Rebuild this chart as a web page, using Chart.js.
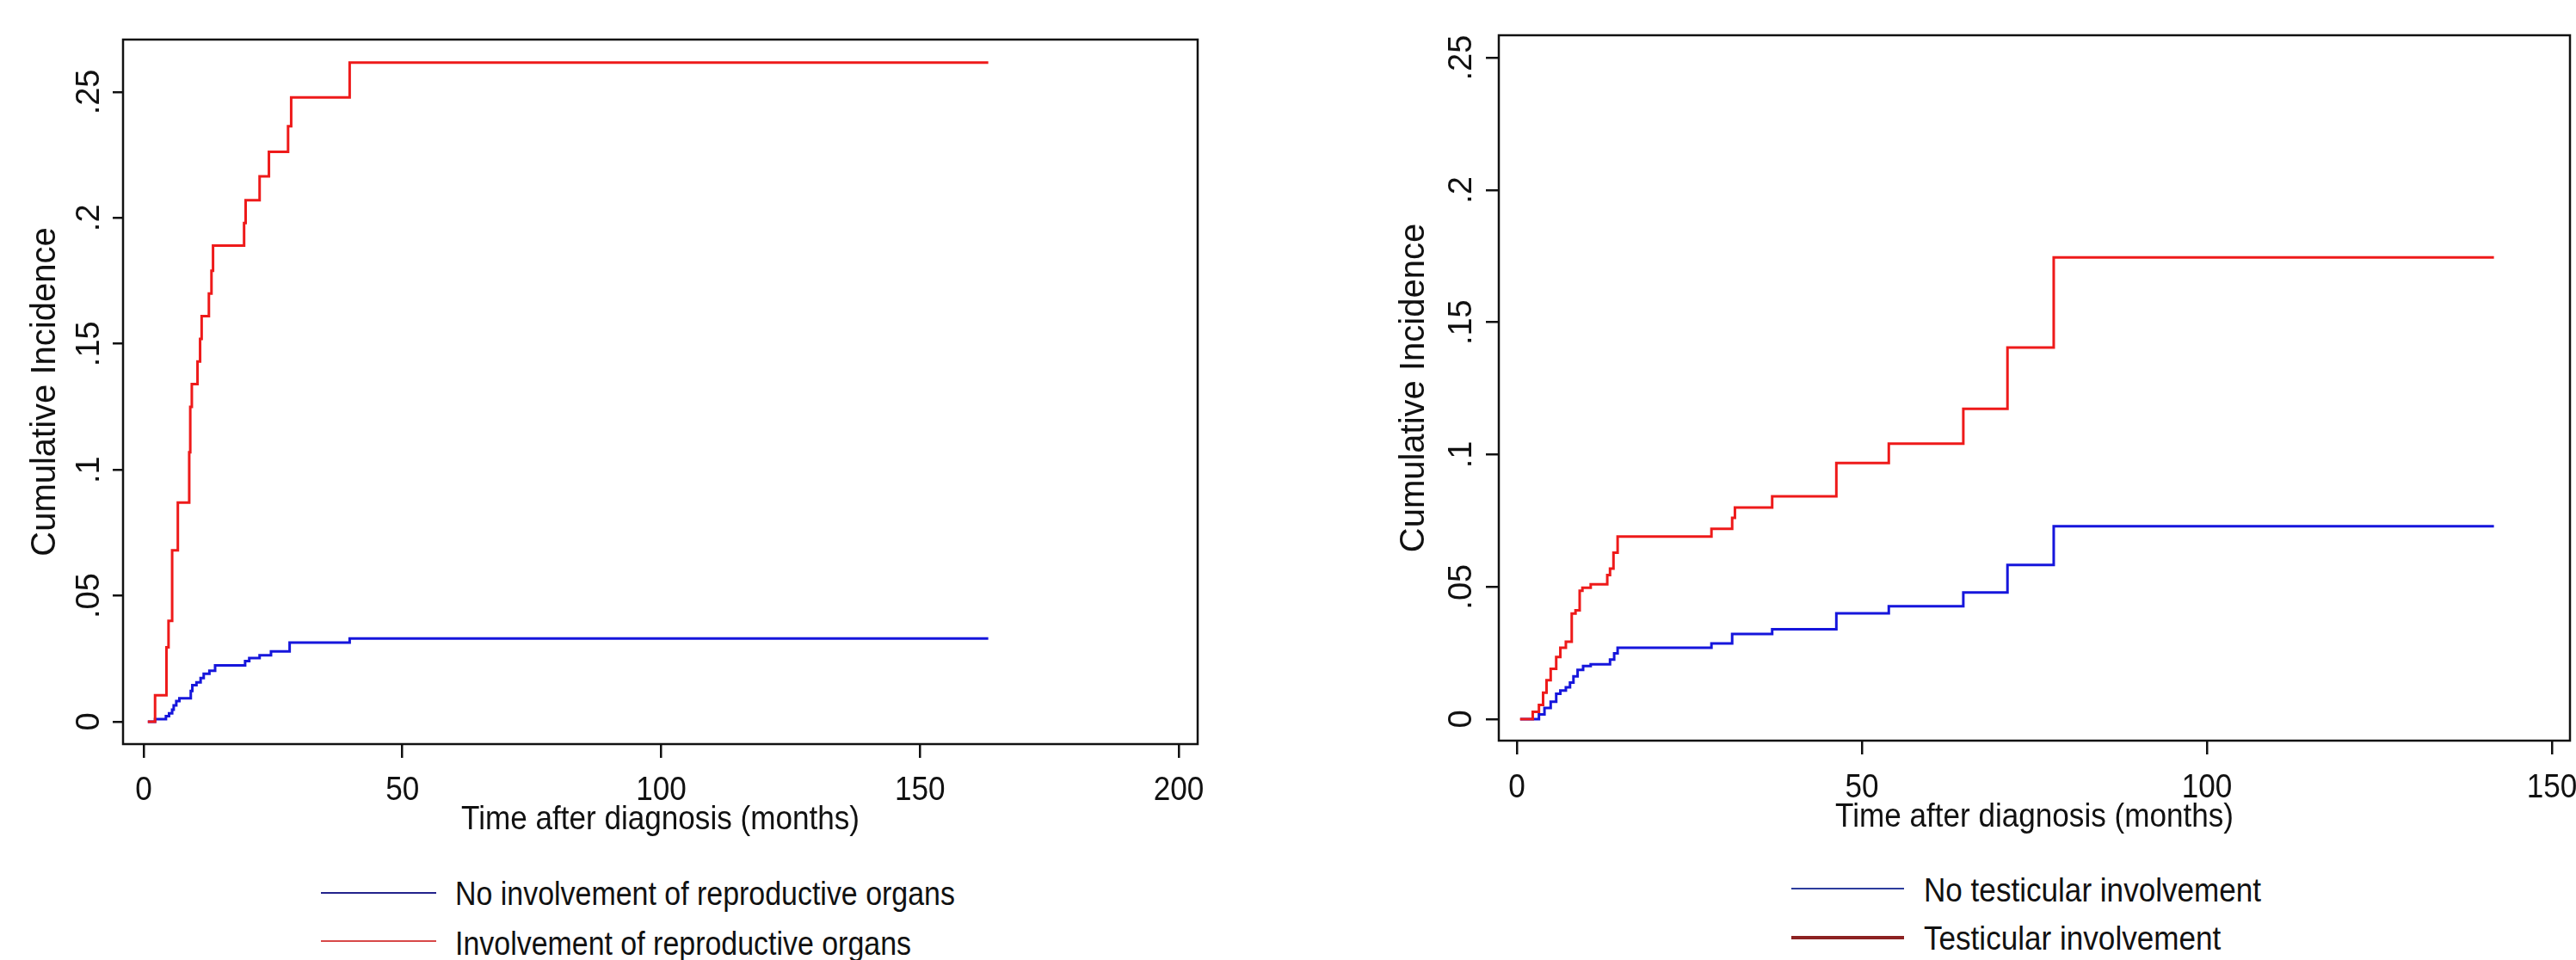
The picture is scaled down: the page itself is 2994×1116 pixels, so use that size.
<!DOCTYPE html>
<html>
<head>
<meta charset="utf-8">
<script src="https://cdn.jsdelivr.net/npm/chart.js@4.4.1/dist/chart.umd.min.js"></script>
<style>
  html, body { margin: 0; padding: 0; background: #fff; overflow: hidden; }
  body { width: 2994px; height: 1116px; position: relative; color: #111;
         font-family: 'Liberation Sans', Arial, sans-serif; }
  canvas { position: absolute; top: 0; }
  #leftChart { left: 0; }
  #rightChart { left: 1500px; }
  .key { position: absolute; height: 0; }
  .key-label { position: absolute; font-size: 39px; line-height: 1; white-space: nowrap;
               transform: scaleX(0.9); transform-origin: 0 0; }
  .key-label.tight { transform: scaleX(0.87); }
</style>
</head>
<body>
<canvas id="leftChart" width="1480" height="1000"></canvas>
<canvas id="rightChart" width="1600" height="1000"></canvas>

<div class="key" style="left:373px; top:1037px; width:134px; border-top:2.5px solid #23238c;"></div>
<div class="key-label tight" style="left:529px; top:1019px;">No involvement of reproductive organs</div>
<div class="key" style="left:373px; top:1093px; width:134px; border-top:2.5px solid #d84848;"></div>
<div class="key-label tight" style="left:529px; top:1077px;">Involvement of reproductive organs</div>

<div class="key" style="left:2082px; top:1032px; width:131px; border-top:2px solid #2c3c9c;"></div>
<div class="key-label" style="left:2236px; top:1015px;">No testicular involvement</div>
<div class="key" style="left:2082px; top:1088px; width:131px; border-top:4px solid #8c2222;"></div>
<div class="key-label" style="left:2236px; top:1071px;">Testicular involvement</div>

<script>
const FONT = "'Liberation Sans', Arial, sans-serif";
const SQUEEZE = 0.9; // horizontal text in the original looks narrowed
Chart.defaults.font.family = FONT;

const yTicks = [0, 0.05, 0.1, 0.15, 0.2, 0.25];
const yTickLabels = ["0", ".05", ".1", ".15", ".2", ".25"];
const xTicksLeft = [0, 50, 100, 150, 200];
const xTicksRight = [0, 50, 100, 150];
const xTitle = "Time after diagnosis (months)";

// left panel: reproductive organs
const leftNoTime = [0.8, 2.2, 4.3, 4.9, 5.5, 5.8, 6.3, 6.9, 9.1, 9.4, 10.2, 11.0, 11.6, 12.7, 13.8, 19.6, 20.4, 22.4, 24.6, 28.2, 39.8, 163.2];
const leftNoCI = [0, 0.001, 0.0022, 0.0033, 0.0048, 0.0065, 0.0082, 0.0093, 0.0122, 0.0145, 0.0156, 0.0173, 0.019, 0.0202, 0.0224, 0.0241, 0.0253, 0.0264, 0.0279, 0.0314, 0.033, 0.033];
const leftYesTime = [0.8, 2.2, 4.4, 4.8, 5.5, 6.6, 8.8, 9.0, 9.3, 10.4, 10.9, 11.2, 12.6, 13.1, 13.4, 19.4, 19.7, 22.4, 24.2, 27.9, 28.5, 39.8, 163.2];
const leftYesCI = [0, 0.0105, 0.0295, 0.04, 0.068, 0.087, 0.107, 0.125, 0.134, 0.143, 0.152, 0.161, 0.17, 0.179, 0.189, 0.198, 0.207, 0.2165, 0.2262, 0.2364, 0.2478, 0.2617, 0.2617];

// right panel: testicular involvement
const rightNoTime = [0.5, 2.7, 3.2, 4.0, 4.9, 5.7, 6.3, 7.1, 7.7, 8.2, 8.8, 9.6, 10.7, 13.5, 14.1, 14.6, 28.2, 31.2, 37.0, 46.3, 53.9, 64.7, 71.1, 77.8, 141.6];
const rightNoCI = [0, 0, 0.0018, 0.0042, 0.0066, 0.0096, 0.0108, 0.012, 0.0138, 0.0162, 0.0186, 0.0201, 0.0207, 0.0225, 0.0249, 0.027, 0.0286, 0.0322, 0.034, 0.04, 0.0427, 0.0479, 0.0583, 0.0729, 0.0729];
const rightYesTime = [0.45, 2.3, 3.2, 3.8, 4.3, 4.9, 5.7, 6.3, 7.1, 7.95, 8.5, 9.1, 9.5, 10.7, 13.1, 13.5, 14.0, 14.6, 28.2, 31.2, 31.6, 37.0, 46.3, 53.9, 64.7, 71.1, 77.8, 141.6];
const rightYesCI = [0, 0.0028, 0.0054, 0.01, 0.0147, 0.019, 0.0235, 0.027, 0.0293, 0.0399, 0.0411, 0.0485, 0.0497, 0.051, 0.0545, 0.0569, 0.0629, 0.069, 0.0719, 0.0761, 0.08, 0.0842, 0.0968, 0.1041, 0.1173, 0.1405, 0.1745, 0.1745];

const pts = (t, v) => t.map((x, i) => ({ x, y: v[i] }));

// box round the plot, rotated y tick labels and narrowed x labels (Stata look)
const stataDecor = {
  id: "stataDecor",
  afterDraw(chart, args, opts) {
    const { ctx, chartArea: a, scales: { x, y } } = chart;
    ctx.save();
    ctx.strokeStyle = "#111";
    ctx.lineWidth = 2.5;
    ctx.strokeRect(a.left, a.top, a.right - a.left, a.bottom - a.top);
    ctx.fillStyle = "#111";
    ctx.textAlign = "center";
    ctx.textBaseline = "alphabetic";

    ctx.font = "38px " + FONT;
    yTicks.forEach((v, i) => {
      ctx.save();
      ctx.translate(opts.yLabelX, y.getPixelForValue(v));
      ctx.rotate(-Math.PI / 2);
      ctx.fillText(yTickLabels[i], 0, 0);
      ctx.restore();
    });

    ctx.font = "39px " + FONT;
    opts.xTicks.forEach((v) => {
      ctx.save();
      ctx.translate(x.getPixelForValue(v), opts.xLabelY);
      ctx.scale(SQUEEZE, 1);
      ctx.fillText(String(v), 0, 0);
      ctx.restore();
    });

    ctx.save();
    ctx.translate((a.left + a.right) / 2, opts.xTitleY);
    ctx.scale(SQUEEZE, 1);
    ctx.fillText(xTitle, 0, 0);
    ctx.restore();
    ctx.restore();
  }
};

function makeChart(id, cfg) {
  return new Chart(document.getElementById(id), {
    type: "line",
    data: {
      datasets: [
        { label: cfg.labels[1], data: pts(cfg.yesTime, cfg.yesCI), borderColor: "#ee1a1a" },
        { label: cfg.labels[0], data: pts(cfg.noTime, cfg.noCI), borderColor: "#1616dc" },
      ],
    },
    options: {
      responsive: false,
      animation: false,
      devicePixelRatio: 1,
      layout: { padding: { left: 0, top: cfg.top, right: cfg.padRight, bottom: 0 } },
      elements: {
        point: { radius: 0 },
        line: { borderWidth: 3, stepped: true, tension: 0 },
      },
      plugins: {
        legend: { display: false },
        tooltip: { enabled: false },
        stataDecor: { yLabelX: cfg.yLabelX, xLabelY: cfg.xLabelY, xTitleY: cfg.xTitleY, xTicks: cfg.xTicks },
      },
      scales: {
        x: {
          type: "linear",
          min: cfg.xMin,
          max: cfg.xMax,
          afterBuildTicks: (s) => { s.ticks = cfg.xTicks.map((value) => ({ value })); },
          afterFit: (s) => { s.height = cfg.xHeight; },
          grid: { display: true, drawOnChartArea: false, drawTicks: true, tickLength: 16, color: "#111", lineWidth: 2.5 },
          border: { display: false },
          ticks: { display: false },
        },
        y: {
          type: "linear",
          min: cfg.yMin,
          max: cfg.yMax,
          afterBuildTicks: (s) => { s.ticks = yTicks.map((value) => ({ value })); },
          afterFit: (s) => { s.width = cfg.yWidth; },
          grid: { display: true, drawOnChartArea: false, drawTicks: true, tickLength: cfg.yTickLen, color: "#111", lineWidth: 2.5 },
          border: { display: false },
          ticks: { display: false },
          title: { display: true, text: "Cumulative Incidence", color: "#111",
                   font: { size: 40 }, padding: { top: cfg.yTitlePad, bottom: 0 } },
        },
      },
    },
    plugins: [stataDecor],
  });
}

makeChart("leftChart", {
  labels: ["No involvement of reproductive organs", "Involvement of reproductive organs"],
  noTime: leftNoTime, noCI: leftNoCI, yesTime: leftYesTime, yesCI: leftYesCI,
  xTicks: xTicksLeft,
  xMin: -3.99, xMax: 203.66, yMin: -0.00888, yMax: 0.2708,
  top: 46, padRight: 88, xHeight: 135, yWidth: 143,
  yTickLen: 12, yLabelX: 115, xLabelY: 930, xTitleY: 964, yTitlePad: 29,
});

makeChart("rightChart", {
  labels: ["No testicular involvement", "Testicular involvement"],
  noTime: rightNoTime, noCI: rightNoCI, yesTime: rightYesTime, yesCI: rightYesCI,
  xTicks: xTicksRight,
  xMin: -2.62, xMax: 152.62, yMin: -0.00813, yMax: 0.2585,
  top: 41, padRight: 113, xHeight: 139, yWidth: 242,
  yTickLen: 15, yLabelX: 210, xLabelY: 927, xTitleY: 961, yTitlePad: 120,
});
</script>
</body>
</html>
